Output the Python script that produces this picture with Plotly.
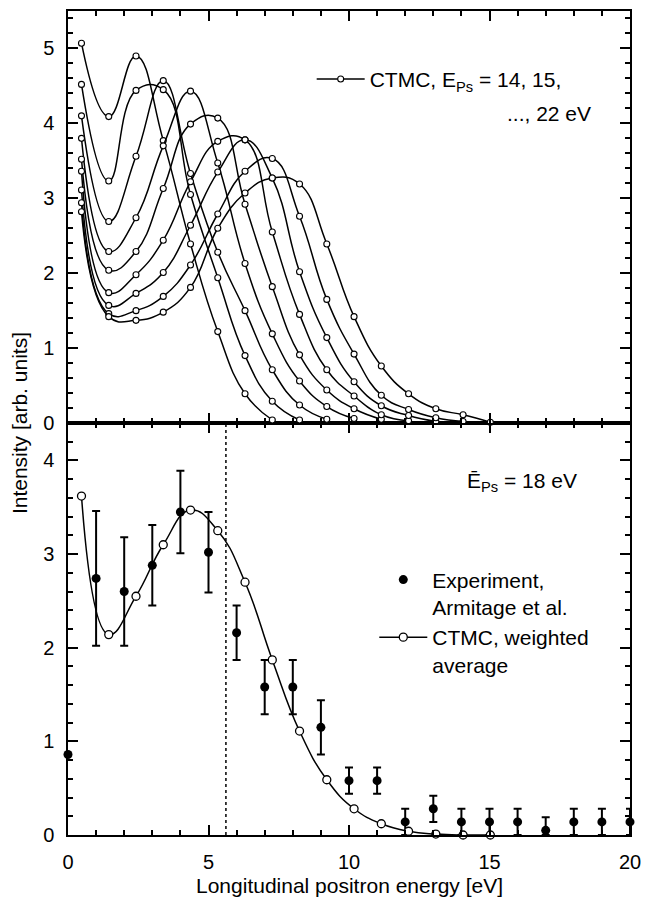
import plotly.graph_objects as go

# ---------------- data ----------------
ctmc_x = [0.48, 1.45, 2.42, 3.39, 4.36, 5.33, 6.30, 7.27, 8.24, 9.21,
          10.18, 11.15, 12.12, 13.09, 14.06, 15.03]

ps_energies = [14, 15, 16, 17, 18, 19, 20, 21, 22]

curve_14 = [5.07, 4.09, 4.90, 3.77, 2.39, 1.22, 0.39, 0.04]
curve_15 = [4.52, 3.23, 4.44, 4.45, 3.05, 1.94, 0.90, 0.29, 0.04]
curve_16 = [4.10, 2.69, 3.56, 4.57, 3.33, 2.28, 1.50, 0.71, 0.24, 0.05]
curve_17 = [3.80, 2.29, 2.74, 3.70, 4.43, 3.47, 2.13, 1.19, 0.56, 0.22, 0.06]
curve_18 = [3.52, 2.04, 2.29, 3.13, 3.99, 4.07, 2.92, 1.82, 0.91, 0.44, 0.19, 0.05]
curve_19 = [3.36, 1.74, 1.98, 2.44, 3.22, 3.76, 3.78, 2.55, 1.45, 0.71, 0.36, 0.11, 0.03]
curve_20 = [3.11, 1.57, 1.73, 2.01, 2.64, 3.35, 3.78, 3.27, 2.02, 1.14, 0.55, 0.23, 0.10, 0.02]
curve_21 = [2.94, 1.46, 1.50, 1.69, 2.11, 2.79, 3.36, 3.53, 2.76, 1.65, 0.92, 0.37, 0.18, 0.07, 0.02]
curve_22 = [2.82, 1.42, 1.37, 1.48, 1.81, 2.60, 3.07, 3.27, 3.19, 2.39, 1.42, 0.76, 0.39, 0.19, 0.11, 0.01]
ctmc_curves = [curve_14, curve_15, curve_16, curve_17, curve_18,
               curve_19, curve_20, curve_21, curve_22]

exp_x = list(range(21))
exp_y = [0.86, 2.74, 2.60, 2.88, 3.45, 3.02, 2.16, 1.58, 1.58, 1.15, 0.58,
         0.58, 0.14, 0.28, 0.14, 0.14, 0.14, 0.05, 0.14, 0.14, 0.14]
exp_err = [0.0, 0.72, 0.58, 0.43, 0.44, 0.43, 0.29, 0.29, 0.29, 0.29, 0.14,
           0.14, 0.14, 0.14, 0.14, 0.14, 0.14, 0.14, 0.14, 0.14, 0.14]
exp_err_minus = [min(e, y) for e, y in zip(exp_err, exp_y)]

avg_y = [3.62, 2.14, 2.55, 3.10, 3.47, 3.25, 2.70, 1.87, 1.11, 0.59,
         0.28, 0.12, 0.04, 0.01, 0.0, 0.0]

mean_energy_x = 5.62

# ---------------- figure ----------------
FONT = "Liberation Sans, Arial, Helvetica, sans-serif"
TXT = 21
fig = go.Figure()

for i, (e, ys) in enumerate(zip(ps_energies, ctmc_curves)):
    fig.add_trace(go.Scatter(
        x=ctmc_x[:len(ys)], y=ys, mode="lines+markers",
        line=dict(color="black", width=1.5, shape="spline", smoothing=1.3),
        marker=dict(symbol="circle", size=6, color="white",
                    line=dict(color="black", width=1.1)),
        name="CTMC, E<sub>Ps</sub> = 14, 15,",
        showlegend=(i == 0), legend="legend",
        xaxis="x2", yaxis="y2", cliponaxis=False))

fig.add_trace(go.Scatter(
    x=exp_x, y=exp_y, mode="markers",
    marker=dict(symbol="circle", size=9, color="black"),
    error_y=dict(type="data", array=exp_err, arrayminus=exp_err_minus,
                 color="black", thickness=2, width=4),
    name="Experiment,<br>Armitage et al.", legend="legend2",
    xaxis="x", yaxis="y", cliponaxis=False))

fig.add_trace(go.Scatter(
    x=ctmc_x, y=avg_y, mode="lines+markers",
    line=dict(color="black", width=1.5, shape="spline", smoothing=1.3),
    marker=dict(symbol="circle", size=8, color="white",
                line=dict(color="black", width=1.3)),
    name="CTMC, weighted<br>average", legend="legend2",
    xaxis="x", yaxis="y", cliponaxis=False))

fig.add_shape(type="line", x0=mean_energy_x, x1=mean_energy_x,
              xref="x", yref="y domain", y0=0, y1=1,
              line=dict(color="black", width=1.5, dash="dot"))

axis_common = dict(
    showline=True, linecolor="black", linewidth=1.5,
    ticks="inside", ticklen=10, tickwidth=1.5, tickcolor="black",
    mirror="allticks", showgrid=False, zeroline=False,
    tickfont=dict(family=FONT, size=20, color="black"),
)

def minor(step):
    return dict(dtick=step, tick0=0, ticks="inside", ticklen=5,
                tickwidth=1.5, tickcolor="black", showgrid=False)

fig.update_layout(
    width=650, height=909,
    margin=dict(l=68, r=10, t=9, b=74),
    paper_bgcolor="white", plot_bgcolor="white",
    font=dict(family=FONT, size=TXT, color="black"),
    xaxis=dict(domain=[0, 1], range=[0, 20], anchor="y", dtick=5, tick0=0,
               ticklabelstandoff=8, ticklabeloverflow="allow",
               minor=minor(1), **axis_common),
    xaxis2=dict(domain=[0, 1], range=[0, 20], anchor="y2", matches="x",
                dtick=5, tick0=0, showticklabels=False, minor=minor(1),
                **axis_common),
    yaxis=dict(domain=[0, 0.5], range=[0, 4.4], anchor="x", dtick=1, tick0=0,
               ticklabelstandoff=8, minor=minor(0.2), **axis_common),
    yaxis2=dict(domain=[0.5, 1], range=[0, 5.5], anchor="x2", dtick=1,
                tick0=0, ticklabelstandoff=8, minor=minor(0.2),
                **axis_common),
    legend=dict(x=0.4336, y=0.917, xanchor="left", yanchor="middle",
                bgcolor="rgba(0,0,0,0)", font=dict(family=FONT, size=TXT),
                itemwidth=48),
    legend2=dict(x=0.545, y=0.258, xanchor="left", yanchor="middle",
                 bgcolor="rgba(0,0,0,0)", font=dict(family=FONT, size=TXT),
                 valign="top", tracegroupgap=0, itemwidth=48),
    annotations=[
        dict(text="..., 22 eV", xref="paper", yref="paper", x=0.9336,
             y=0.876, xanchor="right", yanchor="middle", showarrow=False,
             font=dict(family=FONT, size=TXT)),
        dict(text="Ē<sub>Ps</sub> = 18 eV", xref="paper", yref="paper",
             x=0.808, y=0.4286, xanchor="center", yanchor="middle",
             showarrow=False, font=dict(family=FONT, size=TXT)),
        dict(text="Intensity [arb. units]", xref="paper", yref="paper",
             x=-0.087, y=0.5, xanchor="center", yanchor="middle",
             textangle=-90, showarrow=False, font=dict(family=FONT, size=TXT)),
        dict(text="Longitudinal positron energy [eV]", xref="paper",
             yref="paper", x=0.5, y=-0.061, xanchor="center",
             yanchor="middle", showarrow=False,
             font=dict(family=FONT, size=TXT)),
    ],
)

fig.write_html("out.html")
